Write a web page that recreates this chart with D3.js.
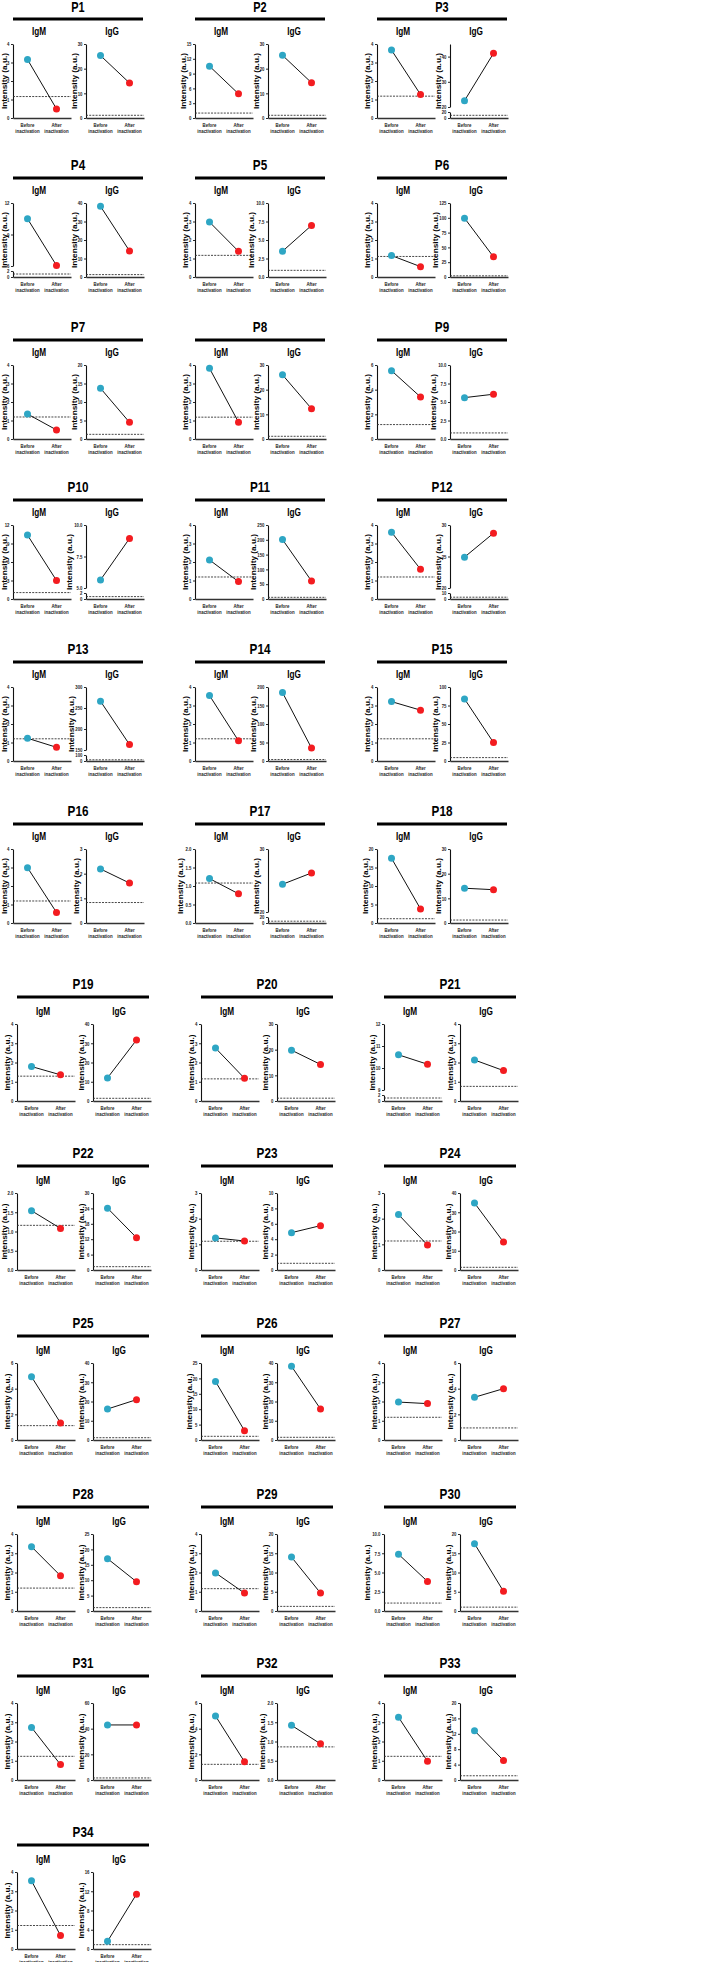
<!DOCTYPE html>
<html>
<head>
<meta charset="utf-8">
<script src="https://cdnjs.cloudflare.com/ajax/libs/d3/7.8.5/d3.min.js"></script>
<style>
  body { margin: 0; background: #fff; }
  svg text {
    font-family: "Liberation Sans", Arial, sans-serif;
    font-weight: bold;
  }
</style>
</head>
<body>
<div id="chart-area"></div>
<script>
// data

var patients = d3.range(1, 35).map((d) => "P" + d);
var groups = ["Before inactivation", "After inactivation"];

var igmBefore = [3.16, 10.5, 3.67, 10.5, 2.97, 1.16, 1.35, 3.82, 5.54, 10.36, 2.11, 3.61, 1.23, 3.54, 3.21, 2.99, 1.2, 17.5, 1.79, 2.75, 10.6, 1.54, 1.25, 2.16, 4.93, 19, 1.97, 3.34, 1.98, 7.37, 2.73, 4.99, 3.26, 3.54];
var igmAfter = [0.49, 4.9, 1.27, 6.05, 1.39, 0.56, 0.49, 0.91, 3.41, 3.0, 0.94, 1.61, 0.74, 1.09, 2.75, 0.57, 0.79, 3.8, 1.36, 1.18, 10.17, 1.08, 1.13, 0.97, 1.33, 3.0, 1.89, 1.83, 0.93, 3.84, 0.8, 1.42, 0.97, 0.7];
var igmCutoff = [1.16, 1.0, 1.18, 1.0, 1.17, 1.11, 1.19, 1.18, 1.17, 1.04, 1.19, 1.19, 1.2, 1.2, 1.2, 1.19, 1.08, 1.16, 1.29, 1.15, 1.0, 1.16, 1.12, 1.13, 1.12, 1.2, 1.18, 1.19, 1.16, 1.03, 1.23, 1.22, 1.23, 1.22];

var iggBefore = [25.3, 25.4, 22.5, 38.2, 3.48, 99.4, 13.7, 26, 5.59, 5.64, 200.7, 24.9, 266, 185, 83.9, 2.19, 24.4, 14.1, 12.0, 19.8, 2.13, 24.1, 4.85, 34.8, 16.1, 38.3, 3.33, 17.0, 14.0, 17.5, 42.9, 1.42, 12.8, 1.59];
var iggAfter = [14.2, 14.3, 41.3, 14.1, 6.97, 34, 4.5, 12.3, 6.05, 8.93, 60.8, 28.7, 163, 35, 24.9, 1.62, 26.2, 13.5, 31.7, 14.25, 1.58, 12.6, 5.76, 14.5, 20.95, 16.1, 4.0, 9.5, 4.66, 5.1, 42.9, 0.94, 5.04, 11.4];
var iggCutoff = [1.1, 1.1, 9, 1.3, 0.9, 2, 1.26, 1.1, 0.82, 0.8, 5.7, 3, 20, 4, 4.6, 0.83, 6, 1.2, 1.4, 1.1, 0.76, 1.3, 0.87, 1.4, 1.2, 1.4, 0.94, 1.1, 1.2, 1.0, 1.6, 0.86, 1.1, 0.9];

// y axis top value and tick step
var igmMax = [4, 15, 4, 12, 4, 4, 4, 4, 6, 12, 4, 4, 4, 4, 4, 4, 2, 20, 4, 4, 12, 2, 3, 3, 6, 25, 4, 4, 4, 10, 4, 6, 4, 4];
var igmStep = [1, 3, 1, 3, 1, 1, 1, 1, 2, 3, 1, 1, 1, 1, 1, 1, 0.5, 5, 1, 1, 1, 0.5, 1, 1, 2, 5, 1, 1, 1, 2.5, 1, 2, 1, 1];
var iggMax = [30, 30, 45, 40, 10, 125, 20, 30, 10, 10, 250, 30, 300, 200, 100, 3, 30, 30, 40, 30, 4, 30, 10, 40, 40, 40, 6, 25, 20, 20, 60, 2, 20, 16];
var iggStep = [10, 10, 10, 10, 2.5, 25, 5, 10, 2.5, 2.5, 50, 5, 50, 50, 25, 1, 10, 10, 10, 10, 1, 6, 2, 10, 10, 10, 2, 5, 5, 5, 20, 0.5, 4, 4];

// broken axes: lower segment [0, lowTop], upper segment [upStart, max]
var breakKeys = ["P3 IgG", "P4 IgM", "P10 IgG", "P12 IgG", "P13 IgG", "P17 IgG", "P21 IgM"];
var breakLowTop = [20, 2, 2, 10, 100, 20, 2];
var breakUpStart = [20, 6, 5, 20, 150, 20, 9];

// layout
var width = 709;
var height = 1962;
var rowBarY = [19, 178, 340, 500, 662, 824, 997, 1166, 1336, 1507, 1676, 1845];

function rowLayout(r) {
  if (r < 6) return { left: [13, 195, 377], barW: 130, top: 25, h: 74, gap: 73 };
  return { left: [17, 201, 384], barW: 132, top: 27, h: 77, gap: 76 };
}

var teal = "#2ea6c4";
var red = "#f31c20";

var svg = d3
  .select("#chart-area")
  .append("svg")
  .attr("width", width)
  .attr("height", height);

var x = d3.scalePoint().domain(groups).range([0, 58]).padding(0.5);

function fmtFor(step) {
  return step % 1 === 0 ? d3.format("d") : d3.format(".1f");
}

function styleAxis(sel) {
  sel.attr("font-family", null).attr("font-size", null);
  sel.select(".domain").attr("stroke", "#111").attr("stroke-width", 1.1);
  sel.selectAll(".tick line").attr("stroke", "#111").attr("stroke-width", 0.9);
  sel.selectAll(".tick text").attr("font-size", "5.5px").attr("fill", "#222").attr("class", "cond");
}

function drawSub(g, absLeft, label, before, after, cutoff, maxV, step, brk, h) {
  var fmt = fmtFor(step);
  var y, segs;

  if (brk) {
    var yLow = d3.scaleLinear().domain([0, brk.low]).range([h, h - 6]);
    var yUp = d3.scaleLinear().domain([brk.up, maxV]).range([h - 11, 0]);
    y = (v) => (v <= brk.low ? yLow(v) : yUp(Math.max(v, brk.up)));
    var upTicks = d3.range(Math.ceil(brk.up / step) * step, maxV + step / 2, step);
    if (upTicks[0] !== brk.up) upTicks.unshift(brk.up);
    segs = [
      { scale: yLow, ticks: [0, brk.low], f: d3.format("d") },
      { scale: yUp, ticks: upTicks, f: fmt }
    ];
  } else {
    var ys = d3.scaleLinear().domain([0, maxV]).range([h, 0]);
    y = ys;
    segs = [{ scale: ys, ticks: d3.range(0, maxV + step / 2, step), f: fmt }];
  }

  // sub title
  g.append("text")
    .attr("class", "cond")
    .attr("x", 26)
    .attr("y", -9)
    .attr("text-anchor", "middle")
    .attr("font-size", "10.5px")
    .text(label);

  // y axis segments
  var maxLen = 1;
  segs.forEach(function (s) {
    var ax = d3.axisLeft(s.scale).tickValues(s.ticks).tickFormat(s.f).tickSize(2).tickSizeOuter(0).tickPadding(1.5);
    var a = g.append("g").attr("class", "y-axis axis").call(ax);
    styleAxis(a);
    s.ticks.forEach((t) => (maxLen = Math.max(maxLen, s.f(t).length)));
  });

  // y axis title, kept inside the page
  var tx = Math.max(-(maxLen * 2.2 + 5), 6.5 - absLeft);
  g.append("text")
    .attr("transform", `translate(${tx}, ${h / 2}) rotate(-90)`)
    .attr("text-anchor", "middle")
    .attr("font-size", "7.3px")
    .attr("textLength", 56)
    .attr("lengthAdjust", "spacingAndGlyphs")
    .text("Intensity (a.u.)");

  // x axis
  var xa = g
    .append("g")
    .attr("class", "x-axis axis")
    .attr("transform", `translate(0, ${h})`)
    .call(d3.axisBottom(x).tickSize(0).tickSizeOuter(0).tickFormat(""));
  styleAxis(xa);
  xa.select(".domain").attr("stroke-width", 1.4).attr("stroke", "#333");

  groups.forEach(function (grp) {
    var words = grp.split(" ");
    words.forEach(function (w, k) {
      g.append("text")
        .attr("class", "cond")
        .attr("x", x(grp))
        .attr("y", h + 8.5 + k * 6)
        .attr("text-anchor", "middle")
        .attr("font-size", "5.6px")
        .attr("fill", "#1a1a1a")
        .text(w);
    });
  });

  // cutoff line
  g.append("line")
    .attr("x1", 0)
    .attr("x2", 58)
    .attr("y1", y(cutoff))
    .attr("y2", y(cutoff))
    .attr("stroke", "#333")
    .attr("stroke-width", 0.9)
    .attr("stroke-dasharray", "2,1.2");

  // connecting line and points
  g.append("line")
    .attr("x1", x(groups[0]))
    .attr("x2", x(groups[1]))
    .attr("y1", y(before))
    .attr("y2", y(after))
    .attr("stroke", "#111")
    .attr("stroke-width", 1);

  g.selectAll(".dot")
    .data([
      { k: groups[0], v: before, c: teal },
      { k: groups[1], v: after, c: red }
    ])
    .join("circle")
    .attr("class", "dot")
    .attr("cx", (d) => x(d.k))
    .attr("cy", (d) => y(d.v))
    .attr("r", 3.5)
    .attr("fill", (d) => d.c);
}

function getBreak(p, ab) {
  var i = breakKeys.indexOf(p + " " + ab);
  if (i < 0) return null;
  return { low: breakLowTop[i], up: breakUpStart[i] };
}

patients.forEach(function (p, i) {
  var r = Math.floor(i / 3);
  var c = i % 3;
  var L = rowLayout(r);
  var left = L.left[c];

  var g = svg.append("g").attr("transform", `translate(${left}, ${rowBarY[r]})`);

  // panel title and bar
  g.append("text")
    .attr("class", "cond")
    .attr("x", L.barW / 2)
    .attr("y", r === 0 ? -7 : -8)
    .attr("text-anchor", "middle")
    .attr("font-size", r === 0 ? "14px" : "15px")
    .text(p);

  g.append("line")
    .attr("x1", 0)
    .attr("x2", L.barW)
    .attr("stroke", "#000")
    .attr("stroke-width", 3);

  drawSub(
    g.append("g").attr("transform", `translate(0, ${L.top})`), left,
    "IgM", igmBefore[i], igmAfter[i], igmCutoff[i], igmMax[i], igmStep[i], getBreak(p, "IgM"), L.h
  );
  drawSub(
    g.append("g").attr("transform", `translate(${L.gap}, ${L.top})`), left + L.gap,
    "IgG", iggBefore[i], iggAfter[i], iggCutoff[i], iggMax[i], iggStep[i], getBreak(p, "IgG"), L.h
  );
});

// the figure is squeezed sideways, so narrow the horizontal texts
svg.selectAll("text.cond").each(function () {
  var w = this.getComputedTextLength();
  d3.select(this).attr("textLength", w * 0.78).attr("lengthAdjust", "spacingAndGlyphs");
});
</script>
</body>
</html>
